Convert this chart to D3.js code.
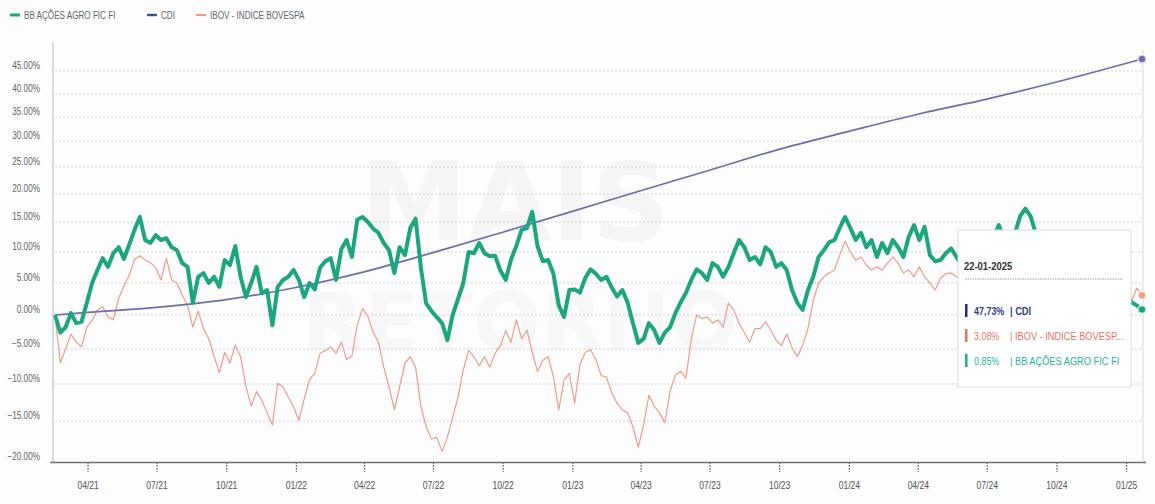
<!DOCTYPE html>
<html><head><meta charset="utf-8">
<script src="https://cdn.jsdelivr.net/npm/d3@7"></script>
<style>
html,body{margin:0;padding:0;background:#fff;}
svg{display:block;font-family:"Liberation Sans",Arial,sans-serif;}
</style></head><body>
<svg id="chart" width="1155" height="504"></svg>
<script>
// ---------- DATA ----------
const seriesNames = ["BB AÇÕES AGRO FIC FI", "CDI", "IBOV - INDICE BOVESPA"];
const startDate = "2021-02-17";   // weekly observations from this date
const endDate = "2025-01-22";

const agroValues = [0,-2.6,-1.8,0.3,-1.2,-1.0,1.9,5.0,7.1,9.0,7.6,9.8,10.8,8.9,11.2,13.7,15.9,12.0,11.5,12.8,
12.0,12.3,10.8,10.3,8.2,7.6,1.9,6.0,6.6,5.0,6.0,4.4,8.7,7.9,11.0,6.0,2.8,5.0,7.6,3.4,
3.9,-1.5,4.4,5.5,6.0,7.1,5.5,2.8,5.0,4.0,7.5,8.5,9.0,5.5,10.5,12.0,9.2,15.4,15.9,15.0,
13.9,13.2,11.5,10.3,6.6,10.8,9.5,14.0,15.6,7.5,1.8,0.6,-0.3,-1.2,-3.7,0,2.5,5.0,10.0,9.8,
11.5,9.8,9.3,9.4,7.0,5.5,8.8,11.0,13.7,14.0,16.8,11.0,8.5,8.7,6.5,1.5,-0.3,3.9,4.0,3.5,
5.8,7.2,6.5,5.5,6.0,4.3,2.9,3.9,1.9,-1.2,-4.1,-3.5,-1.2,-2.2,-4.1,-2.6,-1.8,0.3,2.0,3.5,
5.5,7.2,6.6,5.5,8.2,7.6,6.0,7.6,9.8,12.0,10.8,8.7,9.2,8.0,10.8,10.0,7.6,8.2,7.1,3.9,
1.9,0.8,3.9,6.0,9.2,10.3,11.6,12.0,14.0,15.9,14.0,12.0,13.2,10.8,12.0,9.2,11.5,9.8,12.0,10.8,
9.2,12.5,14.5,12.0,14.2,9.5,8.5,8.7,9.8,10.6,9.2,7.9,8.8,9.5,10.8,11.2,12.0,12.5,14.5,12.0,
12.5,13.0,16.0,17.4,16.0,13.0,12.5,11.0,10.0,10.5,9.5,10.8,8.5,9.2,8.0,9.0,6.5,7.2,6.0,5.0,
5.5,4.0,3.2,2.0,1.5,0.85];

const ibovValues = [0,-7.0,-5.0,-2.8,-4.0,-4.7,-1.8,-0.8,0.8,1.3,-0.3,-0.7,2.6,4.5,6.3,8.8,9.4,8.7,8.3,7.4,
5.5,9.0,5.5,5.0,3.1,1.5,-1.8,0.6,-2.0,-3.5,-6.0,-8.4,-5.5,-7.0,-4.4,-6.1,-10.3,-13.0,-11.0,-12.2,
-13.9,-15.5,-9.9,-10.4,-11.8,-13.1,-14.9,-12.0,-9.4,-8.4,-5.6,-5.2,-4.7,-5.6,-4.0,-6.5,-6.0,-1.5,1.0,-0.2,
-2.5,-4.0,-7.6,-10.4,-13.5,-10.4,-7.0,-6.1,-7.6,-13.0,-15.7,-17.2,-17.0,-18.7,-17.0,-14.5,-11.8,-8.0,-5.2,-6.1,
-7.4,-6.1,-7.6,-5.6,-4.5,-2.3,-4.0,-0.7,-3.5,-2.2,-5.5,-8.2,-6.6,-6.1,-9.0,-13.5,-9.4,-8.5,-12.6,-7.2,
-5.5,-5.1,-6.5,-8.8,-9.0,-11.2,-12.6,-13.5,-13.9,-15.7,-18.2,-15.5,-11.5,-13.0,-13.9,-15.2,-11.0,-8.7,-8.2,-9.2,
-3.5,0.0,-0.5,-0.3,-1.2,-0.7,-1.8,1.9,0.8,-1.2,-2.6,-4.0,-2.0,-2.0,-1.0,-2.2,-3.7,-4.5,-2.8,-4.8,
-6.1,-4.5,-2.0,2.3,5.0,6.0,6.6,7.1,9.5,11.8,10.0,8.7,9.2,7.9,7.1,7.6,7.1,8.2,9.2,8.2,
6.6,7.1,6.0,7.6,6.0,5.0,3.9,5.8,6.5,6.6,6.0,5.5,6.3,7.0,6.5,7.8,8.5,7.9,9.0,8.2,
9.5,10.2,9.0,8.0,8.8,7.5,6.8,7.6,6.0,5.5,6.2,4.8,5.6,4.5,3.6,4.3,2.8,3.5,2.2,3.0,
1.8,2.5,3.4,2.0,4.2,3.08];

const cdiDates = ["2021-02-17","2021-04-01","2021-07-01","2021-10-01","2022-01-01","2022-04-01","2022-07-01",
"2022-10-01","2023-01-01","2023-04-01","2023-07-01","2023-10-01","2024-01-01","2024-04-01","2024-07-01",
"2024-10-01","2025-01-22"];
const cdiValues = [0,0.4,1.2,2.4,4.3,6.8,9.9,13.3,16.9,20.6,24.4,28.4,32.0,35.6,38.9,42.6,47.73];

const yTicks = [-20,-15,-10,-5,0,5,10,15,20,25,30,35,40,45];
const xTicks = ["2021-04-01","2021-07-01","2021-10-01","2022-01-01","2022-04-01","2022-07-01","2022-10-01",
"2023-01-01","2023-04-01","2023-07-01","2023-10-01","2024-01-01","2024-04-01","2024-07-01","2024-10-01","2025-01-01"];
const tooltipDate = "22-01-2025";

// ---------- SETUP ----------
const colors = {agro:"#1ca67f", cdi:"#6a6eae", ibov:"#ef9c88"};
const parse = d3.utcParse("%Y-%m-%d");
const t0 = parse(startDate);
const weekDates = agroValues.map((_, i) => d3.utcDay.offset(t0, 7 * i));
const agro = agroValues.map((v, i) => ({date: weekDates[i], v}));
const ibov = ibovValues.map((v, i) => ({date: weekDates[i], v}));
const cdi = cdiValues.map((v, i) => ({date: parse(cdiDates[i]), v}));

// narrow the default font to mimic the condensed face of the original
function condense(sel, f) {
  sel.each(function () {
    const w = this.getComputedTextLength();
    this.setAttribute("textLength", (w * f).toFixed(1));
    this.setAttribute("lengthAdjust", "spacingAndGlyphs");
  });
}

const svg = d3.select("#chart");
const x = d3.scaleUtc().domain([t0, parse(endDate)]).range([55, 1142]);
// photo of the original: vertical spacing varies between ticks
const y = d3.scaleLinear()
  .domain([-20,-15,-10,-5,0,5,10,15,20,25,30,35,40,45,50])
  .range([462,421,384,349,315,283,252,222,194,167,141,117,94,71,49]);

const br = d3.formatLocale({decimal: ",", thousands: ".", grouping: [3], currency: ["R$", ""]});
const fmtAxis = d3.format(".2f");
const fmtTip = br.format(".2f");

// background
svg.append("rect").attr("width", 1155).attr("height", 504).attr("fill", "#fdfdfd");

// watermark
const wm = svg.append("g").attr("font-family", "'DejaVu Sans', sans-serif").attr("font-weight", "bold")
  .attr("text-anchor", "middle").attr("fill", "#6a7a6a");
wm.append("text").attr("x", 515).attr("y", 240).attr("font-size", 108).attr("opacity", 0.05).text("MAIS");
wm.append("text").attr("x", 520).attr("y", 350).attr("font-size", 80).attr("opacity", 0.035).text("RETORNO");

// gridlines
svg.append("g").selectAll("line").data(yTicks.slice(1)).join("line")
  .attr("x1", 55).attr("x2", 1143)
  .attr("y1", d => y(d)).attr("y2", d => y(d))
  .attr("stroke", "#cfd2d2").attr("stroke-width", 1).attr("stroke-dasharray", "2,2");

// y axis line
svg.append("line").attr("x1", 53).attr("x2", 53).attr("y1", 42).attr("y2", y(-20))
  .attr("stroke", "#b9c6c6").attr("stroke-width", 1.2);
// right crosshair line
svg.append("line").attr("x1", 1143).attr("x2", 1143).attr("y1", 50).attr("y2", y(-20))
  .attr("stroke", "#d6d8d8").attr("stroke-width", 1);

// y labels
svg.append("g").selectAll("text").data(yTicks).join("text")
  .attr("x", 40).attr("y", d => y(d) - 6).attr("dy", "0.35em")
  .attr("text-anchor", "end").attr("font-size", 10).attr("fill", "#5d6266")
  .text(d => fmtAxis(d) + "%")
  .call(condense, 0.82);

// x axis
const xAxisG = svg.append("g").attr("transform", `translate(0,${y(-20)})`)
  .call(d3.axisBottom(x).tickValues(xTicks.map(parse)).tickFormat(d3.utcFormat("%m/%y"))
    .tickSize(10).tickPadding(10).tickSizeOuter(0));
xAxisG.select(".domain").attr("stroke", "#6e7275").attr("stroke-width", 1.5).attr("d", "M50,0.5H1146");
xAxisG.selectAll(".tick line").attr("stroke", "#6e7275").attr("stroke-width", 1.2).attr("stroke-dasharray", "2,1");
xAxisG.selectAll(".tick text").attr("font-size", 10).attr("fill", "#4e5255")
  .attr("font-family", "'Liberation Sans',Arial,sans-serif").call(condense, 0.85);

// lines
const line = d3.line().x(d => x(d.date)).y(d => y(d.v));
svg.append("path").datum(ibov).attr("d", line).attr("fill", "none")
  .attr("stroke", colors.ibov).attr("stroke-width", 1.2).attr("stroke-linejoin", "round");
svg.append("path").datum(cdi).attr("d", line.curve(d3.curveMonotoneX)).attr("fill", "none")
  .attr("stroke", colors.cdi).attr("stroke-width", 1.7);
line.curve(d3.curveLinear);
svg.append("path").datum(agro).attr("d", line).attr("fill", "none")
  .attr("stroke", colors.agro).attr("stroke-width", 4).attr("stroke-linejoin", "round");

// hover markers
const lastPts = [
  {d: cdi[cdi.length - 1], c: colors.cdi},
  {d: ibov[ibov.length - 1], c: colors.ibov},
  {d: agro[agro.length - 1], c: colors.agro}
];
svg.append("g").selectAll("circle").data(lastPts).join("circle")
  .attr("cx", p => x(p.d.date)).attr("cy", p => y(p.d.v)).attr("r", 4)
  .attr("fill", p => p.c).attr("stroke", "#fff").attr("stroke-opacity", 0.6).attr("stroke-width", 2);

// legend
const legendItems = [
  {name: seriesNames[0], c: colors.agro, x: 10, w: 3},
  {name: seriesNames[1], c: "#3b4f93", x: 147, w: 2.5},
  {name: seriesNames[2], c: colors.ibov, x: 196, w: 2}
];
const lg = svg.append("g").selectAll("g").data(legendItems).join("g")
  .attr("transform", d => `translate(${d.x},15)`);
lg.append("line").attr("x1", 0).attr("x2", 10).attr("stroke", d => d.c).attr("stroke-width", d => d.w);
lg.append("text").attr("x", 14).attr("dy", "0.35em").attr("font-size", 10).attr("fill", "#60656a")
  .text(d => d.name).call(condense, 0.81);

// tooltip
const tip = svg.append("g").attr("transform", "translate(958,230)");
tip.append("rect").attr("width", 173).attr("height", 157).attr("fill", "#fff")
  .attr("stroke", "#dcdcdc").attr("stroke-width", 1);
tip.append("text").attr("x", 6).attr("y", 40).attr("font-size", 11.5).attr("font-weight", "bold")
  .attr("fill", "#2e3236").text(tooltipDate).call(condense, 0.82);
tip.append("line").attr("x1", 7).attr("x2", 165).attr("y1", 49).attr("y2", 49)
  .attr("stroke", "#9a9a9a").attr("stroke-dasharray", "1.5,1");
const rows = [
  {val: cdi[cdi.length - 1].v, name: seriesNames[1], c: "#2b3c8a", bar: "#1f3187", bold: true},
  {val: ibov[ibov.length - 1].v, name: "IBOV - INDICE BOVESP...", c: "#e7735f", bar: "#e7735f", bold: false},
  {val: agro[agro.length - 1].v, name: seriesNames[0], c: "#22b39b", bar: "#1faa8e", bold: false}
];
const rg = tip.selectAll("g.row").data(rows).join("g").attr("class", "row")
  .attr("transform", (d, i) => `translate(0,${81 + i * 25})`);
rg.append("rect").attr("x", 7).attr("y", -7).attr("width", 2.5).attr("height", 13).attr("fill", d => d.bar);
rg.append("text").attr("x", 16).attr("dy", "0.35em").attr("font-size", 10.5)
  .attr("font-weight", d => d.bold ? "bold" : "normal").attr("fill", d => d.c)
  .text(d => fmtTip(d.val) + "%").call(condense, 0.85);
rg.append("text").attr("x", 52).attr("dy", "0.35em").attr("font-size", 10.5)
  .attr("font-weight", d => d.bold ? "bold" : "normal").attr("fill", d => d.c)
  .text(d => "| " + d.name).call(condense, 0.88);
</script>
</body></html>
